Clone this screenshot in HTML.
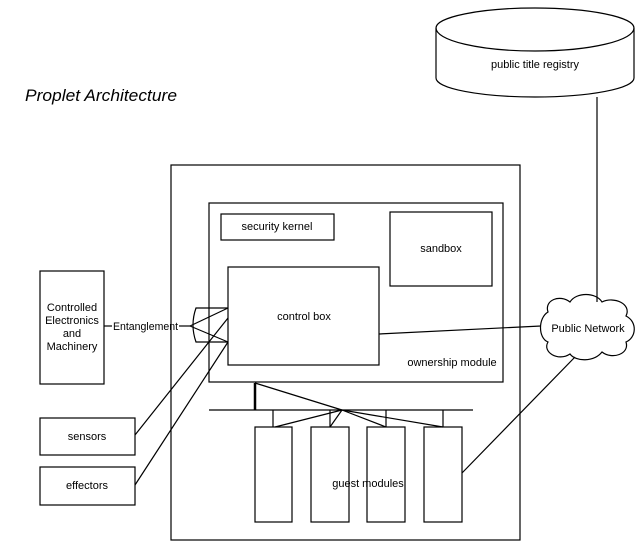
<!DOCTYPE html>
<html><head><meta charset="utf-8"><style>
html,body{margin:0;padding:0;background:#fff;}
svg{display:block;}
text{font-family:"Liberation Sans",sans-serif;font-size:11px;fill:#000;}
</style></head><body>
<svg width="638" height="543" viewBox="0 0 638 543" xmlns="http://www.w3.org/2000/svg">
<g fill="none" stroke="#000" stroke-width="1.2">
<path d="M436,28 A99,20 0 0 1 634,28 L634,78 A99,19 0 0 1 436,78 Z"/>
<path d="M436,28 A99,23 0 0 0 634,28"/>
<line x1="597" y1="97" x2="597" y2="302"/>
<path d="M548,312 C544,300 560,294 570,302 C576,292 596,292 602,302 C614,296 632,304 626,316 C638,322 636,338 626,342 C630,354 612,360 602,352 C594,362 576,362 570,354 C558,362 542,352 548,342 C538,338 538,318 548,312 Z"/>
<rect x="171" y="165" width="349" height="375"/>
<rect x="209" y="203" width="294" height="179"/>
<rect x="221" y="214" width="113" height="26"/>
<rect x="390" y="212" width="102" height="74"/>
<rect x="228" y="267" width="151" height="98"/>
<rect x="40" y="271" width="64" height="113"/>
<rect x="40" y="418" width="95" height="37"/>
<rect x="40" y="467" width="95" height="38"/>
<line x1="104" y1="326" x2="112" y2="326"/>
<line x1="179" y1="326" x2="190" y2="326"/>
<path d="M228,308 L196,308 Q190,325 196,342 L228,342"/>
<line x1="190" y1="326" x2="228" y2="308"/>
<line x1="190" y1="326" x2="228" y2="342"/>
<line x1="135" y1="435" x2="228" y2="318"/>
<line x1="135" y1="485" x2="228" y2="342"/>
<line x1="379" y1="334" x2="541" y2="326"/>
<line x1="462" y1="473" x2="575" y2="357"/>
<line x1="209" y1="410" x2="473" y2="410"/>
<line x1="255" y1="383" x2="255" y2="410" stroke-width="2.5"/>
<line x1="255" y1="383" x2="342" y2="410"/>
<line x1="342" y1="410" x2="275" y2="427"/>
<line x1="342" y1="410" x2="330" y2="427"/>
<line x1="342" y1="410" x2="386" y2="427"/>
<line x1="342" y1="410" x2="443" y2="427"/>
<line x1="273" y1="410" x2="273" y2="427"/>
<line x1="330" y1="410" x2="330" y2="427"/>
<line x1="386" y1="410" x2="386" y2="427"/>
<line x1="443" y1="410" x2="443" y2="427"/>
<rect x="255" y="427" width="37" height="95"/>
<rect x="311" y="427" width="38" height="95"/>
<rect x="367" y="427" width="38" height="95"/>
<rect x="424" y="427" width="38" height="95"/>
</g>
<text x="25" y="101" style="font-size:17px;font-style:italic;" textLength="152" lengthAdjust="spacingAndGlyphs">Proplet Architecture</text>
<text x="535" y="68" text-anchor="middle">public title registry</text>
<text x="588" y="332" text-anchor="middle">Public Network</text>
<text x="277" y="230" text-anchor="middle">security kernel</text>
<text x="441" y="252" text-anchor="middle">sandbox</text>
<text x="304" y="320" text-anchor="middle">control box</text>
<text x="452" y="366" text-anchor="middle">ownership module</text>
<text x="72" y="311" text-anchor="middle">Controlled</text>
<text x="72" y="324" text-anchor="middle">Electronics</text>
<text x="72" y="337" text-anchor="middle">and</text>
<text x="72" y="350" text-anchor="middle">Machinery</text>
<text x="113" y="330" textLength="65" lengthAdjust="spacingAndGlyphs">Entanglement</text>
<text x="87" y="440" text-anchor="middle">sensors</text>
<text x="87" y="489" text-anchor="middle">effectors</text>
<text x="368" y="487" text-anchor="middle">guest modules</text>
</svg>
</body></html>
